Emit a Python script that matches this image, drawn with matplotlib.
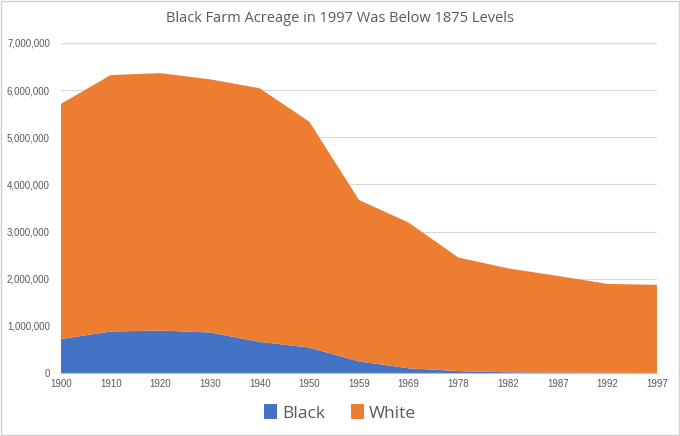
import matplotlib
matplotlib.use("Agg")
import matplotlib.pyplot as plt
import numpy as np
from matplotlib.ticker import FuncFormatter
from matplotlib.patches import Patch

years = ["1900", "1910", "1920", "1930", "1940", "1950", "1959", "1969",
         "1978", "1982", "1987", "1992", "1997"]
black = [720000, 880000, 900000, 860000, 660000, 540000, 245000, 100000,
         40000, 15000, 10000, 5000, 2000]
total = [5710000, 6320000, 6360000, 6230000, 6040000, 5330000, 3670000, 3190000,
         2450000, 2220000, 2060000, 1890000, 1870000]
white = [t - b for t, b in zip(total, black)]

BLUE = "#4472C4"
ORANGE = "#ED7D31"
TXT = "#595959"

plt.rcParams['font.family'] = ['Liberation Sans', 'DejaVu Sans']

fig = plt.figure(figsize=(6.8, 4.36), dpi=100)
ax = fig.add_axes([61/680, 63/436, 596/680, 330/436])

x = np.arange(len(years))
ax.stackplot(x, black, white, colors=[BLUE, ORANGE], linewidth=0)

ax.set_xlim(0, len(years) - 1)
ax.set_ylim(0, 7000000)
ax.set_yticks(np.arange(0, 7000001, 1000000))
ax.yaxis.set_major_formatter(FuncFormatter(lambda v, p: f"{int(v):,}"))
ax.set_xticks(x)
ax.set_xticklabels(years)
ax.tick_params(axis='both', length=0, labelsize=7, colors=TXT)
ax.tick_params(axis='y', pad=8)
ax.tick_params(axis='x', pad=4)
ax.grid(axis='y', color="#D9D9D9", linewidth=0.8)
ax.set_axisbelow(True)
for s in ['top', 'right', 'left']:
    ax.spines[s].set_visible(False)
ax.spines['bottom'].set_color("#BFBFBF")

fig.text(0.5, 1 - 18/436, "Black Farm Acreage in 1997 Was Below 1875 Levels",
         ha='center', va='center', fontsize=10.5, color=TXT,
         family=['Open Sans', 'DejaVu Sans'])

handles = [Patch(facecolor=BLUE, label="Black"), Patch(facecolor=ORANGE, label="White")]
fig.legend(handles=handles, loc='center', bbox_to_anchor=(0.5, 1 - 413/436), ncol=2,
           frameon=False, fontsize=12.5, handlelength=0.75, handleheight=0.9,
           handletextpad=0.3, columnspacing=1.5, labelcolor=TXT,
           prop={'family': ['Open Sans', 'DejaVu Sans'], 'size': 12.5})

fig.patches.append(plt.Rectangle((0.002, 0.002), 0.996, 0.996, transform=fig.transFigure,
                                 fill=False, edgecolor="#D0D0D0", linewidth=1))

fig.savefig("out.png", dpi=100)
